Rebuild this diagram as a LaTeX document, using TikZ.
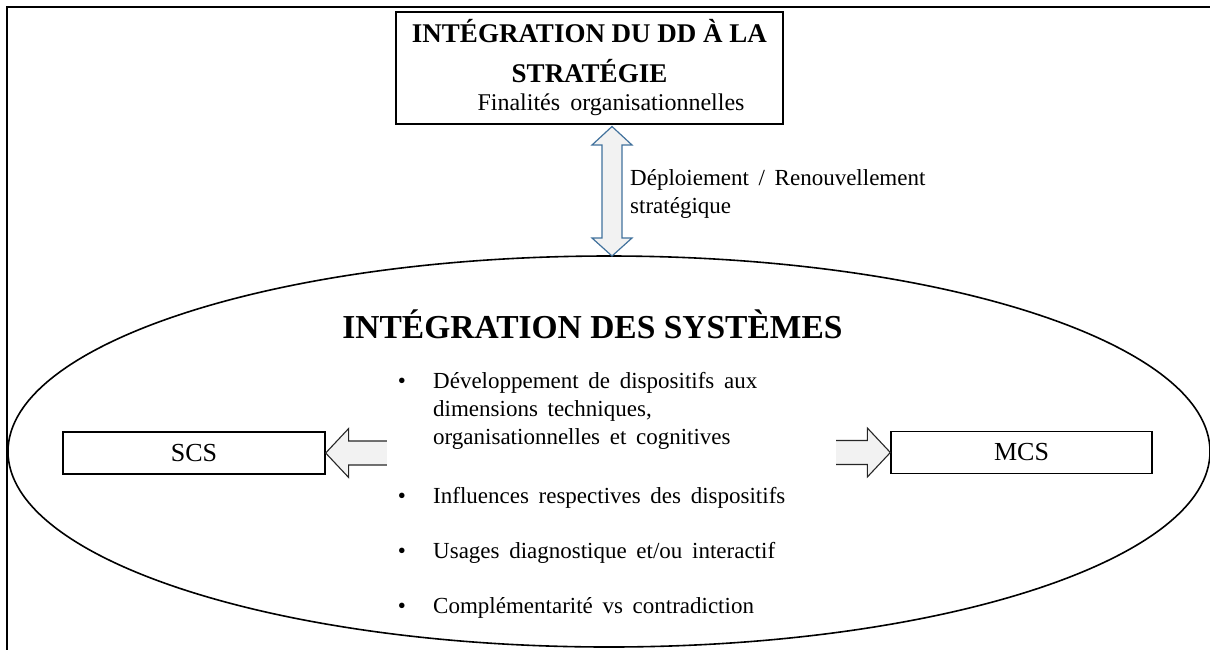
\documentclass[tikz,border=0pt]{standalone}
\usepackage{fontspec}
\setmainfont{Liberation Serif}
\usetikzlibrary{calc}
\definecolor{arrowfill}{HTML}{F2F2F2}
\definecolor{arrowblue}{HTML}{41719C}
\newcommand{\widespaces}{\spaceskip=0.42em plus 0.1em\relax}
\tikzset{
  frameline/.style={line width=2.6pt, black},
  boxline/.style={draw=black, line width=1.3pt, fill=white},
  bigtitle/.style={font=\fontsize{27}{32}\selectfont\bfseries, inner sep=0pt},
  systitle/.style={font=\fontsize{33.5}{38}\selectfont\bfseries, inner sep=0pt},
  bodytext/.style={font=\fontsize{23}{28}\selectfont\widespaces, inner sep=0pt},
  subtext/.style={font=\fontsize{24}{28}\selectfont\widespaces, inner sep=0pt},
  labelbox/.style={boxline, minimum height=42, inner sep=0pt, font=\fontsize{26}{30}\selectfont},
  blockarrow/.style={draw=black!85, line width=1.1pt, fill=arrowfill, line join=miter},
  dblarrow/.style={draw=arrowblue, line width=1.2pt, fill=arrowfill, line join=miter},
}
\begin{document}
\begin{tikzpicture}[x=1pt, y=-1pt]
\useasboundingbox (0,0) rectangle (1210,649);

% outer frame (continues past the page on the right and bottom)
\draw[frameline] (7,700) -- (7,7) -- (1260,7);

% strategy box
\node[boxline, minimum width=387, minimum height=112, inner sep=0pt] (strat) at (589.5,68) {};
\node[bigtitle, anchor=base] (st1) at (589.5,42) {INTÉGRATION DU DD À LA};
\node[bigtitle, anchor=base] (st2) at (589.5,82) {STRATÉGIE};
\node[subtext, anchor=base] (st3) at (611,110) {Finalités organisationnelles};

% systems ellipse
\draw[line width=1.6pt] (609,451.5) ellipse [x radius=601, y radius=195.5];
\coordinate (ellN) at (612,256);
\coordinate (stratS) at (612,126.5);

% double arrow between the strategy box and the systems ellipse
\draw[dblarrow] (stratS) -- ++(20,18.5) -- ++(-10,0) -- ++(0,93) -- ++(10,0)
  -- (ellN) -- ++(-20,-18) -- ++(10,0) -- ++(0,-93) -- ++(-10,0) -- cycle;
\node[bodytext, anchor=base west] (dep1) at (630,185) {Déploiement / Renouvellement};
\node[bodytext, anchor=base west] (dep2) at (630,213) {stratégique};

% system title
\node[systitle, anchor=base] (systitle) at (592.5,338) {INTÉGRATION DES SYSTÈMES};

% SCS and MCS boxes
\node[labelbox, minimum width=262] (scs) at (194,453) {SCS};
\node[labelbox, minimum width=261] (mcs) at (1021.5,452.5) {MCS};

% block arrows pointing to SCS and MCS
\draw[blockarrow] (scs.east) -- ++(23,-24.5) -- ++(0,12.5) -- ++(45,0) -- ++(0,24)
  -- ++(-45,0) -- ++(0,12.5) -- cycle;
\draw[blockarrow] (mcs.west) -- ++(-23,-24.5) -- ++(0,12.5) -- ++(-45,0) -- ++(0,24)
  -- ++(45,0) -- ++(0,12.5) -- cycle;

% list of bullet points on a white panel
\fill[white] (387,362) rectangle (836,622);
\node[bodytext, anchor=base] (b1) at (402,388) {•};
\node[bodytext, anchor=base west] (l1a) at (433,388) {Développement de dispositifs aux};
\node[bodytext, anchor=base west] (l1b) at (433,416) {dimensions techniques,};
\node[bodytext, anchor=base west] (l1c) at (433,444) {organisationnelles et cognitives};
\node[bodytext, anchor=base] (b2) at (402,503) {•};
\node[bodytext, anchor=base west] (l2) at (433,503) {Influences respectives des dispositifs};
\node[bodytext, anchor=base] (b3) at (402,558) {•};
\node[bodytext, anchor=base west] (l3) at (433,558) {Usages diagnostique et/ou interactif};
\node[bodytext, anchor=base] (b4) at (402,613) {•};
\node[bodytext, anchor=base west] (l4) at (433,613) {Complémentarité vs contradiction};
\end{tikzpicture}
\end{document}
